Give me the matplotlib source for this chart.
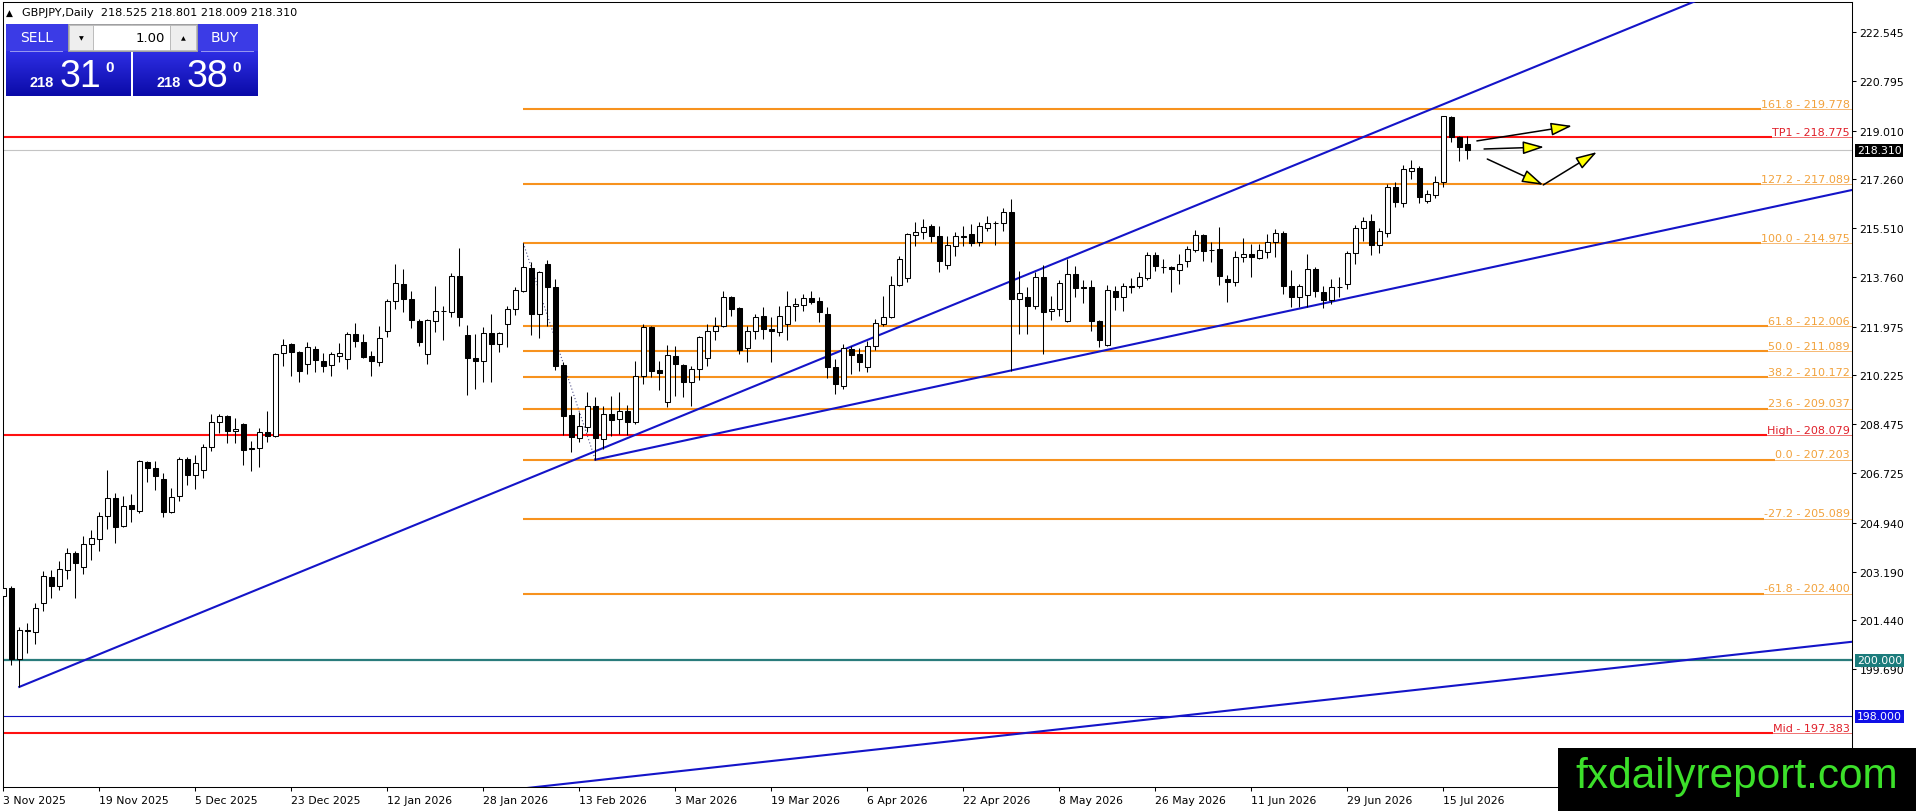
import matplotlib
matplotlib.use("Agg")
import matplotlib.pyplot as plt
import matplotlib.transforms as mtransforms
from matplotlib.patches import Rectangle, FancyArrowPatch
from matplotlib.colors import LinearSegmentedColormap
import numpy as np

W, H = 1916, 812

# daily GBPJPY candles, bar 0 = 3 Nov 2025
opens = [
    202.31, 202.60, 200.05, 201.10, 201.02, 202.06, 202.99, 202.67, 203.25, 203.85,
    203.35, 204.18, 204.36, 205.18, 205.83, 204.82, 205.58, 205.36, 207.12, 206.91,
    206.51, 205.33, 205.90, 207.23, 206.65, 206.83, 207.66, 208.56, 208.77, 208.23,
    208.48, 207.62, 207.62, 208.20, 208.05, 211.03, 211.35, 211.07, 210.64, 211.17,
    210.74, 210.60, 210.92, 210.82, 211.71, 211.43, 210.92, 210.71, 211.82, 212.90,
    213.51, 212.97, 212.18, 211.00, 212.18, 212.54, 212.50, 213.79, 211.68, 210.85,
    210.74, 211.75, 211.35, 212.07, 212.61, 213.26, 214.08, 212.43, 214.22, 213.40,
    210.60, 208.81, 207.98, 208.38, 209.13, 207.95, 208.84, 208.66, 208.95, 208.56,
    210.21, 211.96, 210.42, 209.27, 210.92, 210.60, 209.99, 210.46, 210.85, 211.82,
    212.00, 213.04, 212.65, 211.21, 211.82, 212.36, 211.89, 211.78, 212.07, 212.72,
    212.75, 213.00, 212.90, 212.43, 210.53, 209.85, 211.17, 211.00, 210.53, 211.28,
    212.07, 212.32, 213.47, 213.72, 215.26, 215.37, 215.59, 215.23, 214.19, 214.87,
    215.21, 215.30, 215.01, 215.52, 215.70, 215.70, 216.09, 212.97, 213.04, 212.72,
    213.76, 212.54, 212.61, 212.18, 213.87, 213.40, 213.40, 212.18, 211.32, 213.26,
    213.04, 213.43, 213.43, 213.72, 214.55, 214.13, 214.12, 214.01, 214.33, 214.73,
    215.26, 214.74, 214.76, 213.69, 213.58, 214.48, 214.58, 214.44, 214.66, 215.01,
    215.34, 213.43, 213.04, 213.11, 214.05, 213.22, 212.93, 213.41, 213.51, 214.62,
    215.52, 215.77, 214.91, 215.34, 216.99, 216.41, 217.56, 217.67, 216.48, 216.70,
    217.17, 219.50, 218.78, 218.525]
highs = [
    202.74, 202.67, 201.20, 201.34, 202.06, 203.21, 203.25, 203.57, 204.03, 203.93,
    204.46, 204.68, 205.33, 206.83, 206.01, 205.90, 205.97, 207.19, 207.16, 207.16,
    206.73, 206.19, 207.30, 207.30, 207.37, 207.77, 208.84, 208.84, 208.81, 208.70,
    208.52, 207.87, 208.34, 208.95, 211.03, 211.53, 211.39, 211.10, 211.43, 211.28,
    211.03, 211.07, 211.39, 211.78, 212.11, 211.71, 211.10, 212.00, 212.97, 214.22,
    214.05, 213.26, 212.25, 212.25, 213.43, 212.72, 213.90, 214.80, 212.04, 211.71,
    211.96, 212.43, 211.78, 212.72, 213.40, 214.975, 214.30, 213.97, 214.37, 213.69,
    210.71, 209.49, 208.91, 209.63, 209.45, 209.13, 209.49, 209.63, 209.17, 210.74,
    212.07, 212.00, 210.74, 211.32, 211.28, 210.63, 210.56, 211.64, 212.07, 212.32,
    213.26, 213.08, 212.68, 212.00, 212.43, 212.68, 212.32, 212.72, 213.26, 213.00,
    213.15, 213.26, 213.04, 212.68, 210.82, 211.35, 211.28, 211.21, 211.46, 212.25,
    213.08, 213.79, 214.51, 215.34, 215.73, 215.84, 215.66, 215.59, 215.23, 215.37,
    215.59, 215.66, 215.73, 215.95, 215.77, 216.23, 216.56, 213.97, 213.40, 213.94,
    214.19, 213.08, 213.65, 214.40, 214.15, 213.65, 213.65, 212.21, 213.47, 213.43,
    213.54, 213.72, 213.94, 214.66, 214.66, 214.40, 214.15, 214.58, 214.87, 215.44,
    215.30, 215.01, 215.55, 213.83, 214.69, 215.16, 214.94, 214.94, 215.30, 215.48,
    215.41, 214.01, 213.51, 214.58, 214.12, 213.43, 213.69, 213.76, 214.69, 215.62,
    215.91, 216.02, 215.52, 217.09, 217.17, 217.78, 217.96, 217.74, 216.88, 217.38,
    219.55, 219.52, 218.82, 218.801]
lows = [
    201.95, 199.84, 199.05, 200.27, 200.59, 201.77, 202.24, 202.53, 202.92, 202.24,
    203.10, 203.60, 203.93, 204.72, 204.21, 204.79, 204.97, 205.29, 206.40, 206.12,
    205.15, 205.29, 205.72, 206.29, 206.15, 206.55, 207.51, 208.16, 207.80, 207.80,
    207.01, 206.80, 206.94, 207.84, 208.02, 210.56, 210.21, 209.99, 210.28, 210.35,
    210.35, 210.21, 210.71, 210.46, 211.25, 210.85, 210.21, 210.56, 211.61, 212.61,
    212.50, 211.93, 211.28, 210.64, 211.78, 211.50, 212.32, 212.00, 209.52, 209.74,
    209.99, 209.99, 211.07, 211.25, 212.39, 213.22, 211.68, 211.57, 212.00, 210.42,
    208.09, 207.48, 207.84, 208.20, 207.203, 207.59, 208.05, 208.12, 208.09, 208.48,
    209.92, 210.17, 209.70, 209.09, 209.49, 209.45, 209.13, 210.06, 210.56, 211.50,
    211.96, 212.36, 211.00, 210.71, 211.53, 211.53, 210.71, 211.64, 211.50, 212.18,
    212.54, 212.79, 212.14, 210.13, 209.56, 209.74, 210.28, 210.39, 210.35, 211.14,
    212.00, 212.29, 213.45, 213.58, 214.87, 215.12, 215.01, 213.94, 214.05, 214.51,
    214.87, 214.87, 214.87, 215.41, 214.91, 215.41, 210.39, 211.71, 211.71, 212.61,
    211.00, 212.22, 212.36, 212.14, 213.04, 212.83, 211.82, 211.25, 211.28, 212.57,
    212.54, 213.18, 213.36, 213.65, 213.97, 213.90, 213.22, 213.51, 214.12, 214.66,
    214.33, 214.30, 213.47, 212.86, 213.43, 214.30, 213.76, 214.40, 214.44, 214.48,
    213.15, 212.68, 212.68, 212.68, 213.04, 212.65, 212.79, 213.04, 213.33, 214.22,
    215.05, 214.55, 214.62, 215.19, 216.27, 216.27, 217.27, 216.41, 216.41, 216.59,
    216.99, 218.60, 217.92, 218.009]
closes = [
    202.60, 200.05, 201.09, 201.07, 201.88, 203.03, 202.67, 203.28, 203.86, 203.50,
    204.18, 204.39, 205.18, 205.83, 204.79, 205.54, 205.43, 207.16, 206.91, 206.62,
    205.33, 205.86, 207.23, 206.65, 207.08, 207.66, 208.56, 208.77, 208.23, 208.31,
    207.55, 207.59, 208.20, 208.05, 211.00, 211.32, 211.07, 210.39, 211.25, 210.78,
    210.56, 211.00, 211.03, 211.71, 211.46, 210.89, 210.74, 211.57, 212.90, 213.54,
    212.97, 212.22, 211.43, 212.22, 212.54, 212.52, 213.79, 212.32, 210.85, 210.74,
    211.75, 211.35, 211.75, 212.61, 213.29, 214.12, 212.43, 213.94, 213.40, 210.56,
    208.77, 208.02, 208.41, 209.13, 207.98, 208.84, 208.63, 208.95, 208.56, 210.21,
    211.96, 210.39, 210.31, 210.96, 210.64, 209.99, 210.46, 211.61, 211.82, 212.00,
    213.04, 212.61, 211.14, 211.82, 212.32, 211.89, 211.82, 212.36, 212.72, 212.79,
    213.00, 212.86, 212.50, 210.53, 209.92, 211.21, 210.96, 210.71, 211.28, 212.11,
    212.32, 213.47, 214.40, 215.30, 215.37, 215.55, 215.23, 214.33, 214.91, 215.23,
    215.24, 214.98, 215.59, 215.70, 215.68, 216.09, 212.97, 213.18, 212.72, 213.76,
    212.50, 212.61, 213.54, 213.87, 213.36, 213.36, 212.18, 211.50, 213.29, 213.04,
    213.43, 213.40, 213.76, 214.55, 214.15, 214.10, 214.05, 214.22, 214.76, 215.26,
    214.69, 214.71, 213.79, 213.58, 214.48, 214.58, 214.48, 214.73, 215.01, 215.34,
    213.43, 213.04, 213.43, 214.05, 213.26, 212.93, 213.40, 213.39, 214.62, 215.52,
    215.77, 214.91, 215.41, 216.99, 216.45, 217.63, 217.67, 216.63, 216.74, 217.17,
    219.53, 218.78, 218.42, 218.310]

date_labels = ["3 Nov 2025", "19 Nov 2025", "5 Dec 2025", "23 Dec 2025", "12 Jan 2026",
               "28 Jan 2026", "13 Feb 2026", "3 Mar 2026", "19 Mar 2026", "6 Apr 2026",
               "22 Apr 2026", "8 May 2026", "26 May 2026", "11 Jun 2026", "29 Jun 2026",
               "15 Jul 2026"]
bars_per_label = 12

price_ticks = [222.545, 220.795, 219.010, 217.260, 215.510, 213.760, 211.975,
               210.225, 208.475, 206.725, 204.940, 203.190, 201.440, 199.690]

# fibonacci drawn from the bar 65 high to the bar 74 low
fib_from, fib_to = 65, 74
fib_ratios = [161.8, 127.2, 100.0, 61.8, 50.0, 38.2, 23.6, 0.0, -27.2, -61.8]
fib_prices = [219.778, 217.089, 214.975, 212.006, 211.089, 210.172, 209.037,
              207.203, 205.089, 202.400]

red_names = ["TP1", "High", "Mid"]
red_prices = [218.775, 208.079, 197.383]
bid_price = 218.310
round_200 = 200.000
round_198 = 198.000

# trend lines as (bar, price) anchor pairs
trend_up = ((2, 199.05), (174.6, 219.32))
trend_mid = ((74, 207.203), (231.1, 216.88))
trend_low = ((174.6, 198.88), (231.1, 200.67))

# projection arrows (bar, price) -> (bar, price)
arrows = [((184.2, 218.64), (196.1, 219.18)),
          ((185.1, 218.35), (192.6, 218.42)),
          ((185.5, 217.99), (192.5, 217.06)),
          ((192.5, 217.06), (199.2, 218.24))]

header = "GBPJPY,Daily  218.525 218.801 218.009 218.310"

FS = 7.8
ORANGE = "#f7921e"
ORANGE_TXT = "#f2a23c"
RED = "#ff1010"
BLUE = "#1414c8"

fig = plt.figure(figsize=(W / 100, H / 100), dpi=100)
fig.patch.set_facecolor("white")
ax = fig.add_axes([2.7 / W, 1 - 788.3 / H, (1852 - 2.7) / W, (788.3 - 2.7) / H])
XMIN, XMAX = -0.075, 231.09
ax.set_xlim(XMIN, XMAX)
ax.set_ylim(195.448, 223.635)
for s in ax.spines.values():
    s.set_linewidth(0.75)
    s.set_color("black")

# overlay axes in pixel units for the widgets
ov = fig.add_axes([0, 0, 1, 1], zorder=20)
ov.set_xlim(0, W)
ov.set_ylim(H, 0)
ov.axis("off")
ov.patch.set_alpha(0)

idx = np.arange(len(opens))
o = np.array(opens)
c = np.array(closes)

# candles
ax.vlines(idx, lows, highs, color="black", lw=0.75, zorder=4)
up = c >= o
ax.bar(idx[up], (c - o)[up], bottom=o[up], width=0.56, color="white",
       edgecolor="black", linewidth=0.75, zorder=5)
ax.bar(idx[~up], (o - c)[~up], bottom=c[~up], width=0.56, color="black",
       edgecolor="black", linewidth=0.75, zorder=5)

# horizontal levels
ax.axhline(bid_price, color="#c4c4c4", lw=0.8, zorder=2)
ax.axhline(round_200, color="#2a7c7c", lw=1.6, zorder=2)
ax.axhline(round_198, color="#1010c0", lw=0.8, zorder=2)

blend = mtransforms.blended_transform_factory(ov.transData, ax.transData)
lab_tr = mtransforms.offset_copy(blend, fig=fig, x=0, y=1.6, units="points")

levels = []
for r, p in zip(fib_ratios, fib_prices):
    t = ax.text(1850, p, f"{r:.1f} - {p:.3f}", transform=lab_tr, ha="right",
                va="baseline", fontsize=8, color=ORANGE_TXT, zorder=6, clip_on=False)
    levels.append((t, p, fib_from, ORANGE, "#f6b872"))
for n, p in zip(red_names, red_prices):
    t = ax.text(1850, p, f"{n} - {p:.3f}", transform=lab_tr, ha="right",
                va="baseline", fontsize=8, color="#e0202a", zorder=6, clip_on=False)
    levels.append((t, p, XMIN, RED, "#f07070"))

ax.plot([fib_from, fib_to], [highs[fib_from], lows[fib_to]], color="#50508a",
        lw=0.8, ls=(0, (1, 2)), zorder=3)

# trend lines
for (x0, p0), (x1, p1) in [trend_up, trend_mid]:
    k = (p1 - p0) / (x1 - x0)
    ax.plot([x0, XMAX], [p0, p0 + k * (XMAX - x0)], color=BLUE, lw=1.5, zorder=3)
(x0, p0), (x1, p1) = trend_low
k = (p1 - p0) / (x1 - x0)
ax.plot([XMIN, XMAX], [p0 + k * (XMIN - x0), p0 + k * (XMAX - x0)], color=BLUE,
        lw=1.5, zorder=3)

for a, b in arrows:
    ax.add_patch(FancyArrowPatch(a, b, arrowstyle="-|>,head_length=1.3,head_width=0.4",
                                 mutation_scale=10, lw=1.1, ec="black", fc="#ffff00",
                                 shrinkA=0, shrinkB=0, zorder=8))

# axes ticks
ax.yaxis.tick_right()
ax.set_yticks(price_ticks, [f"{v:.3f}" for v in price_ticks])
ax.tick_params(axis="y", length=3, width=0.75, pad=2.5, labelsize=FS)
ax.set_xticks([bars_per_label * i for i in range(len(date_labels))], date_labels)
ax.tick_params(axis="x", length=3, width=0.75, pad=2.5, labelsize=FS)
for lbl in ax.get_xticklabels():
    lbl.set_horizontalalignment("left")

# price boxes on the axis
box_tr = mtransforms.blended_transform_factory(ov.transData, ax.transData)
for p, col in [(bid_price, "black"), (round_200, "#1c7c7c"), (round_198, "#1010e6")]:
    ax.text(1857, p, f"{p:.3f}", transform=box_tr, ha="left", va="center",
            fontsize=FS, color="white", zorder=9, clip_on=False,
            bbox=dict(boxstyle="square,pad=0.14", fc=col, ec="none"))

# level lines: thick up to the label, thin underline below the label
fig.canvas.draw()
rend = fig.canvas.get_renderer()
inv = ax.transData.inverted()
for t, p, xs, col, thin in levels:
    bb = t.get_window_extent(rend)
    xl = inv.transform((bb.x0, bb.y0))[0]
    ax.plot([xs, xl], [p, p], color=col, lw=1.5, zorder=2, solid_capstyle="butt")
    ax.plot([xl, XMAX], [p, p], color=thin, lw=0.7, zorder=2)

# header and trade panel
ov.text(6, 13, "\u25b2", fontsize=6.5, va="center", ha="left")
ov.text(22, 13, header, fontsize=8.1, va="center", ha="left")

grad_cmap = LinearSegmentedColormap.from_list("panel", ["#2e2ee4", "#0b0ba8"])
grad = np.linspace(0, 1, 64).reshape(-1, 1)
for x0, x1 in [(6, 131), (133, 258)]:
    ov.add_patch(Rectangle((x0, 25), x1 - x0, 27, fc="#3b3be6", lw=0, zorder=1))
    ov.imshow(grad, cmap=grad_cmap, extent=(x0, x1, 97, 52), aspect="auto", zorder=1)
ov.plot([10, 62], [52, 52], color="#9a9af0", lw=0.7, zorder=2)
ov.plot([201, 253], [52, 52], color="#9a9af0", lw=0.7, zorder=2)

ov.add_patch(Rectangle((68, 25), 129, 27, fc="#d4d4d4", ec="#a0a0a0", lw=0.7, zorder=3))
ov.add_patch(Rectangle((69, 26), 24, 25, fc="#eeeeee", ec="#b0b0b0", lw=0.5, zorder=4))
ov.add_patch(Rectangle((93, 26), 77, 25, fc="white", ec="#b0b0b0", lw=0.5, zorder=4))
ov.add_patch(Rectangle((170, 26), 26, 25, fc="#eeeeee", ec="#b0b0b0", lw=0.5, zorder=4))
ov.text(81, 38.5, "\u25bc", fontsize=4.5, ha="center", va="center", zorder=5)
ov.text(183, 38.5, "\u25b2", fontsize=4.5, ha="center", va="center", zorder=5)
ov.text(165, 38.5, "1.00", fontsize=9.5, ha="right", va="center", zorder=5)
ov.text(20, 38.5, "SELL", fontsize=10, ha="left", va="center", color="white", zorder=5)
ov.text(239, 38.5, "BUY", fontsize=10, ha="right", va="center", color="white", zorder=5)

for xs, big in [(30, "31"), (157, "38")]:
    ov.text(xs, 87, "218", fontsize=10.5, fontweight="bold", family="Liberation Sans",
            color="white", ha="left", va="baseline", zorder=5)
    ov.text(xs + 30, 87, big, fontsize=27, family="Liberation Sans", color="white",
            ha="left", va="baseline", zorder=5)
    ov.text(xs + 75, 72, "0", fontsize=11, fontweight="bold", family="Liberation Sans",
            color="white", ha="left", va="baseline", zorder=5)

# watermark
ov.add_patch(Rectangle((1558, 749), 358, 63, fc="black", lw=0, zorder=6))
ov.text(1737, 788, "fxdailyreport.com", fontsize=30.5, family="Liberation Sans",
        color="#3ce02a", ha="center", va="baseline", zorder=7)

ov.set_xlim(0, W)
ov.set_ylim(H, 0)

fig.savefig("out.png", dpi=100)
